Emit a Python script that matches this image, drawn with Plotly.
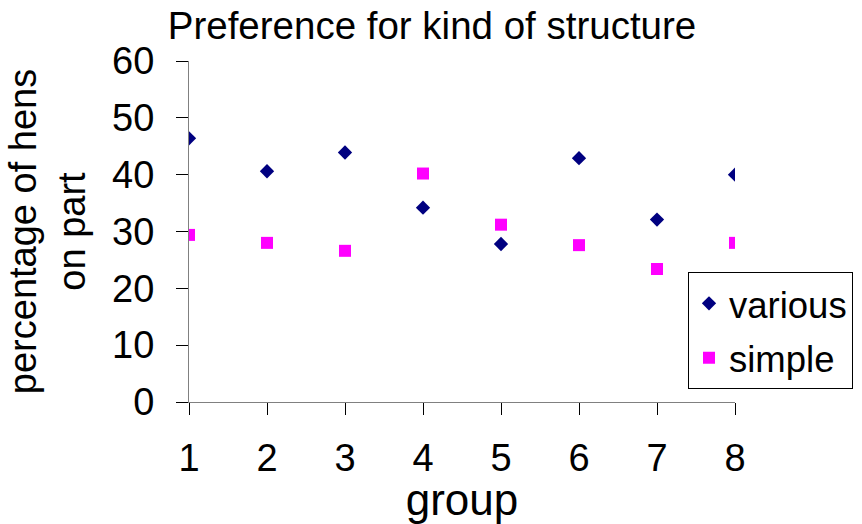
import plotly.graph_objects as go

groups = [1, 2, 3, 4, 5, 6, 7, 8]
various = [46.4, 40.6, 43.9, 34.2, 27.8, 42.9, 32.1, 40.0]
simple = [29.4, 28.0, 26.6, 40.2, 31.2, 27.6, 23.4, 28.0]
y_ticks = [0, 10, 20, 30, 40, 50, 60]

FONT = "Liberation Sans, Arial, sans-serif"

W, H = 862, 524
X0, X1 = 189, 735      # plot area left/right (px)
Y0, Y1 = 61.3, 401.7   # plot area top/bottom (px)

fig = go.Figure()
fig.add_trace(go.Scatter(x=groups, y=various, mode="markers", name="various",
                         legendgroup="a",
                         marker=dict(symbol="diamond", size=11, color="#000080",
                                     line=dict(width=0))))
fig.add_trace(go.Scatter(x=groups, y=simple, mode="markers", name="simple",
                         legendgroup="b",
                         marker=dict(symbol="square", size=12, color="#FF00FF",
                                     line=dict(width=0))))

fig.update_layout(
    width=W, height=H,
    margin=dict(l=X0, r=W - X1, t=Y0, b=H - Y1, autoexpand=False),
    paper_bgcolor="white", plot_bgcolor="white",
    font=dict(family=FONT, size=37, color="black"),
    title=dict(text="Preference for kind of structure", x=432/W, xref="container",
               xanchor="center", y=1 - 26/H, yanchor="middle", yref="container",
               font=dict(size=38.5)),
    showlegend=True,
    legend=dict(x=(688-X0)/(X1-X0), xanchor="left", y=(Y1-272)/(Y1-Y0), yanchor="top",
                bordercolor="black", borderwidth=1, bgcolor="white",
                font=dict(size=36.5), tracegroupgap=4),
    xaxis=dict(range=[1, 8], tickvals=groups, ticktext=[str(g) for g in groups],
               showgrid=False, zeroline=False, showline=True, linecolor="#808080",
               linewidth=1, ticks="outside", ticklen=12, tickcolor="black",
               automargin=False, ticklabelstandoff=10, tickfont=dict(size=38),
               title=dict(text="group", standoff=6)),
    yaxis=dict(range=[0, 60], tickvals=y_ticks, showgrid=False, zeroline=False,
               showline=True, linecolor="#808080", linewidth=1, ticks="outside",
               ticklen=12, tickcolor="black", automargin=False,
               ticklabelstandoff=14, tickfont=dict(size=38),
               title=dict(text="percentage of hens<br>on part", standoff=14,
                          font=dict(size=38))),
)

fig.write_html("out.html", post_script="document.body.style.margin='0';",
               config={"displayModeBar": False})
